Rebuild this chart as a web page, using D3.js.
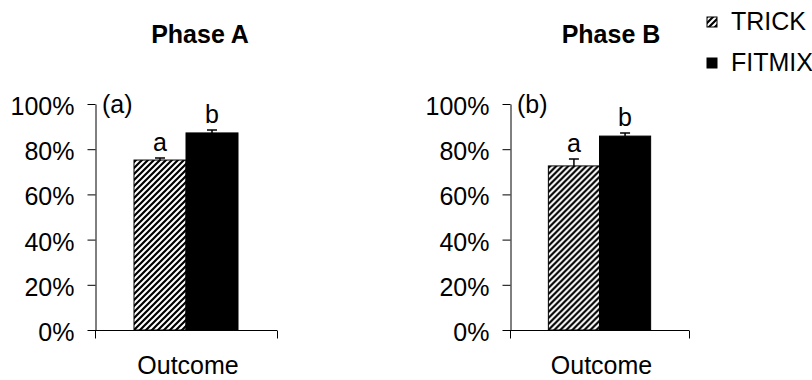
<!DOCTYPE html>
<html lang="en">

<head>
    <meta charset="UTF-8">
    <title>Phase A / Phase B</title>
    <style>
        body { margin: 0; background: #fff; }
        svg text { font-family: "Liberation Sans", Arial, sans-serif; }
    </style>
</head>

<body>
    <script src="https://d3js.org/d3.v7.min.js"></script>
    <script>

        const width = 812;
        const height = 380;

        //data
        const phases = ["Phase A", "Phase B"];
        const panelTags = ["(a)", "(b)"];
        const categories = ["Outcome"];
        const series = ["TRICK", "FITMIX"];
        const trickValues = [0.752, 0.726];
        const trickErrors = [0.009, 0.031];
        const fitmixValues = [0.872, 0.858];
        const fitmixErrors = [0.013, 0.014];
        const sigLetters = [["a", "b"], ["a", "b"]];
        const yTicks = [0, 0.2, 0.4, 0.6, 0.8, 1];

        // panel placement (left edge of y axis, plot width)
        const panels = [{ left: 95, w: 182, titleX: 200 }, { left: 510, w: 179, titleX: 611 }];
        const plotTop = 104, plotBottom = 330;

        const svg = d3.select("body").append("svg")
            .attr("width", width)
            .attr("height", height);

        // hatch pattern
        const defs = svg.append("defs");
        defs.append("pattern")
            .attr("id", "hatch")
            .attr("patternUnits", "userSpaceOnUse")
            .attr("width", 6)
            .attr("height", 6)
            .call(p => p.append("rect").attr("width", 6).attr("height", 6).attr("fill", "#fff"))
            .append("path")
            .attr("d", "M0,6L6,0M-1.5,1.5L1.5,-1.5M4.5,7.5L7.5,4.5")
            .attr("stroke", "#000")
            .attr("stroke-width", 2.2);

        const fill = d3.scaleOrdinal().domain(series).range(["url(#hatch)", "#000"]);

        const y = d3.scaleLinear().domain([0, 1]).range([plotBottom, plotTop]);

        phases.forEach((phase, i) => {
            const p = panels[i];
            const g = svg.append("g").attr("transform", `translate(${p.left},0)`);

            const x0 = d3.scaleBand().domain(categories).range([0, p.w])
                .paddingInner(0).paddingOuter(0.375);
            const x1 = d3.scaleBand().domain(series).range([0, x0.bandwidth()]);

            const rows = [
                { s: "TRICK", v: trickValues[i], e: trickErrors[i], l: sigLetters[i][0] },
                { s: "FITMIX", v: fitmixValues[i], e: fitmixErrors[i], l: sigLetters[i][1] }
            ];

            // title
            svg.append("text")
                .attr("x", p.titleX)
                .attr("y", 43)
                .attr("text-anchor", "middle")
                .attr("font-size", 25)
                .attr("font-weight", "bold")
                .text(phase);

            // y axis
            g.append("g")
                .attr("transform", "translate(0.5,0)")
                .call(d3.axisLeft(y).tickValues(yTicks).tickFormat(d3.format(".0%"))
                    .tickSize(8).tickSizeOuter(0).tickPadding(13))
                .call(a => a.selectAll("text").attr("font-size", 25).attr("dy", "0.42em").attr("fill", "#000"))
                .call(a => a.selectAll("line,path").attr("stroke", "#000"));

            // x axis with boundary ticks
            const xa = g.append("g").attr("transform", `translate(0,${plotBottom + 0.5})`);
            xa.append("line").attr("x1", x0.range()[0]).attr("x2", x0.range()[1]).attr("stroke", "#000");
            xa.selectAll("line.tick")
                .data(x0.range())
                .join("line")
                .attr("class", "tick")
                .attr("x1", d => d + 0.5).attr("x2", d => d + 0.5)
                .attr("y1", 0).attr("y2", 8)
                .attr("stroke", "#000");
            xa.selectAll("text")
                .data(categories)
                .join("text")
                .attr("x", d => x0(d) + x0.bandwidth() / 2 + 2)
                .attr("y", 43)
                .attr("text-anchor", "middle")
                .attr("font-size", 25)
                .text(d => d);

            // bars
            const bars = g.append("g").attr("transform", `translate(${x0(categories[0])},0)`);
            bars.selectAll("rect")
                .data(rows)
                .join("rect")
                .attr("x", d => x1(d.s))
                .attr("y", d => y(d.v))
                .attr("width", x1.bandwidth())
                .attr("height", d => y(0) - y(d.v))
                .attr("fill", d => fill(d.s))
                .attr("stroke", "#000")
                .attr("stroke-width", 1);

            // error bars
            bars.selectAll("path.err")
                .data(rows)
                .join("path")
                .attr("class", "err")
                .attr("d", d => {
                    const cx = x1(d.s) + x1.bandwidth() / 2;
                    return `M${cx},${y(d.v)}V${y(d.v + d.e)}M${cx - 5},${y(d.v + d.e)}H${cx + 5}`;
                })
                .attr("stroke", "#000")
                .attr("stroke-width", 1.5)
                .attr("fill", "none");

            // significance letters
            bars.selectAll("text")
                .data(rows)
                .join("text")
                .attr("x", d => x1(d.s) + x1.bandwidth() / 2)
                .attr("y", d => y(d.v + d.e) - 7)
                .attr("text-anchor", "middle")
                .attr("font-size", 25)
                .text(d => d.l);

            // panel tag
            g.append("text")
                .attr("x", 7)
                .attr("y", 113)
                .attr("font-size", 25)
                .text(panelTags[i]);
        });

        // legend
        const legend = svg.append("g")
            .selectAll("g")
            .data(series)
            .join("g")
            .attr("transform", (d, i) => `translate(707,${17 + i * 41})`);
        legend.append("rect")
            .attr("width", 10)
            .attr("height", 10)
            .attr("fill", d => fill(d))
            .attr("stroke", "#000");
        legend.append("text")
            .attr("x", 24)
            .attr("y", 13)
            .attr("font-size", 25)
            .text(d => d);

    </script>
</body>

</html>
